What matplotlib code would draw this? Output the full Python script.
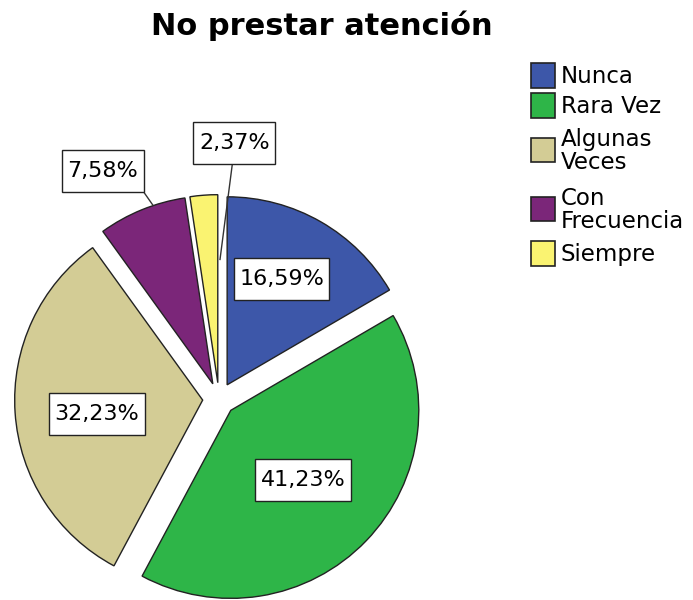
import numpy as np
import matplotlib
matplotlib.use('Agg')
import matplotlib.pyplot as plt
from matplotlib.patches import Rectangle

plt.rcParams['font.family'] = ['DejaVu Sans']

categories = ['Nunca', 'Rara Vez', 'Algunas\nVeces', 'Con\nFrecuencia', 'Siempre']
percentages = [16.59, 41.23, 32.23, 7.58, 2.37]
value_labels = ['16,59%', '41,23%', '32,23%', '7,58%', '2,37%']
colors = ['#3d57a9', '#2eb548', '#d3cc95', '#7b2679', '#faf371']
title = 'No prestar atención'

W, H = 693, 600
fig = plt.figure(figsize=(W / 100, H / 100), dpi=100)
R = 188.0          # pie radius in px
cx, cy = 219, 201  # pie centre in px (from bottom-left)
L = 235.0
ax = fig.add_axes([(cx - L) / W, (cy - L) / H, 2 * L / W, 2 * L / H])
explode = [0.087] * len(percentages)
wedges, _ = ax.pie(percentages, colors=colors, startangle=90, counterclock=False,
                   explode=explode, radius=1.0,
                   wedgeprops=dict(edgecolor='#222222', linewidth=1.0))
lim = L / R
ax.set_xlim(-lim, lim)
ax.set_ylim(-lim, lim)
ax.set_aspect('auto')
ax.axis('off')

# label placement: (radius, angle or None for mid-angle, origin), leader target (r, angle) from wedge centre
label_params = [
    (0.633, 62.8, 'wedge', None),
    (0.535, None, 'wedge', None),
    (0.567, 187.7, 'wedge', None),
    (1.361, 117.0, 'pie', (1.0, 108.5)),
    (1.364, 86.6, 'pie', (0.652, 89.0)),
]
texts = []
for w, txt, (r, ang, origin, leader) in zip(wedges, value_labels, label_params):
    mid = (w.theta1 + w.theta2) / 2.0
    a = np.deg2rad(mid if ang is None else ang)
    ox, oy = w.center if origin == 'wedge' else (0.0, 0.0)
    pos = (ox + r * np.cos(a), oy + r * np.sin(a))
    t = ax.text(pos[0], pos[1], txt, ha='center', va='center', fontsize=16, zorder=6)
    texts.append((t, w, leader))

fig.canvas.draw()
renderer = fig.canvas.get_renderer()
inv = ax.transData.inverted()
box_w_pad, box_h = 5.5, 42.0
for t, w, leader in texts:
    ext = t.get_window_extent(renderer)
    ycen = (ext.y0 + ext.y1) / 2
    x0, y0 = inv.transform((ext.x0 - box_w_pad, ycen - box_h / 2))
    x1, y1 = inv.transform((ext.x1 + box_w_pad, ycen + box_h / 2))
    ax.add_patch(Rectangle((x0, y0), x1 - x0, y1 - y0, facecolor='white',
                           edgecolor='#222222', lw=1.0, zorder=5, clip_on=False))
    if leader is not None:
        lr, la = leader
        wx, wy = w.center
        tx = wx + lr * np.cos(np.deg2rad(la))
        ty = wy + lr * np.sin(np.deg2rad(la))
        sx = min(max(tx, x0), x1)
        if sx == tx:
            sx = (x0 + x1) / 2 - 0.01
        ax.plot([sx, tx], [y0, ty], color='#333333', lw=1.0, zorder=4,
                solid_capstyle='butt', clip_on=False)

fig.text(322 / W, 1 - 35 / H, title, ha='center', va='baseline',
         fontsize=22, fontweight='bold')

# legend (drawn in pixel layout, rows taller for two-line labels)
single_row, extra_line = 30.0, 29.0
first_center = 75.5
box = 24.0
centers = []
prev_h = None
for c in categories:
    h = single_row + c.count('\n') * extra_line
    yc = first_center if prev_h is None else centers[-1] + (prev_h + h) / 2
    centers.append(yc)
    prev_h = h
for c, col, yc in zip(categories, colors, centers):
    fig.add_artist(Rectangle((531 / W, 1 - (yc + box / 2) / H), box / W, box / H,
                             transform=fig.transFigure, facecolor=col,
                             edgecolor='#222222', lw=1.2))
    fig.text(561 / W, 1 - (yc + 1) / H, c, ha='left', va='center',
             fontsize=16.5, linespacing=0.95)

fig.savefig('out.png', dpi=100)
